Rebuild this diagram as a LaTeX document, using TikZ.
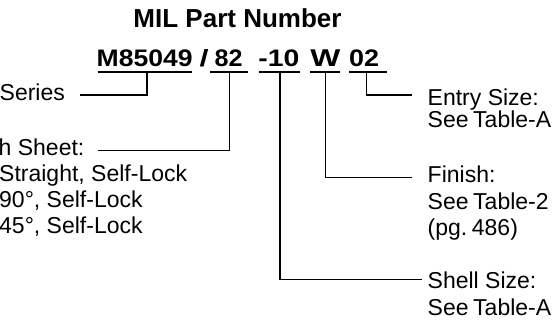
\documentclass[tikz,border=0pt]{standalone}
\usepackage{fontspec}
\setmainfont{Liberation Sans}
\begin{document}
\begin{tikzpicture}[x=1pt,y=-1pt,
  lbl/.style={anchor=base west,inner sep=0pt,font=\fontsize{23}{26}\selectfont},
  pn/.style={anchor=base,inner sep=0pt,font=\fontsize{24}{28}\selectfont\bfseries},
  uline/.style={line width=1.6pt},
  conn/.style={line width=1.2pt}]
\useasboundingbox (0,0) rectangle (556,325);
% title
\node (title) [anchor=base,inner sep=0pt,font=\fontsize{26}{30}\selectfont\bfseries] at (237.5,27) {MIL Part Number};
% part number segments
\node (pA) [pn] at (144.7,66) {\resizebox{96pt}{16.7pt}{M85049}};
\node (pS) [pn] at (204,66) {\resizebox{9pt}{17pt}{/}};
\node (pB) [pn] at (228.7,66) {\resizebox{28pt}{16.7pt}{82}};
\node (pC) [pn] at (278.8,66) {\resizebox{41pt}{16.7pt}{-10}};
\node (pD) [pn] at (325.3,66) {\resizebox{30pt}{16.7pt}{W}};
\node (pE) [pn] at (364.2,66) {\resizebox{30pt}{16.7pt}{02}};
% underlines
\draw[uline] (97.7,71.7) -- (191.7,71.7);
\draw[uline] (210,71.7) -- (248.3,71.7);
\draw[uline] (259.3,71.7) -- (300,71.7);
\draw[uline] (310,71.7) -- (340,71.7);
\draw[uline] (349.3,71.7) -- (386.7,71.7);
% labels
\node (ser) [lbl] at (-0.5,100.7) {Series};
\node (sh1) [lbl] at (-1.5,155.7) {h Sheet:};
\node (sh2) [lbl] at (-1,181.7) {Straight, Self-Lock};
\node (sh3) [lbl] at (-1,207.3) {90°, Self-Lock};
\node (sh4) [lbl] at (-1,233.3) {45°, Self-Lock};
\node (en1) [lbl] at (427.5,105) {Entry Size:};
\node (en2) [lbl] at (427.5,127.3) {See\hspace{0.2em}Table-A};
\node (fi1) [lbl] at (427.5,182.3) {Finish:};
\node (fi2) [lbl] at (427.5,209.5) {See\hspace{0.2em}Table-2};
\node (fi3) [lbl] at (427.5,235) {(pg.\hspace{0.2em}486)};
\node (she1) [lbl] at (427.5,288.3) {Shell Size:};
\node (she2) [lbl] at (427.5,315) {See\hspace{0.2em}Table-A};
% connector ends
\coordinate (serEnd) at (80,95);
\coordinate (shEnd) at (98.3,150.5);
\coordinate (enEnd) at (411.7,95);
\coordinate (fiEnd) at (412,177.3);
\coordinate (sheEnd) at (422,279.3);
% connectors
\draw[conn] ([xshift=2.3pt,yshift=-5.7pt]pA.base) |- (serEnd);
\draw[conn] ([xshift=0.6pt,yshift=-5.7pt]pB.base) |- (shEnd);
\draw[conn] ([xshift=1.2pt,yshift=-5.7pt]pC.base) |- (sheEnd);
\draw[conn] ([yshift=-5.7pt]pD.base) |- (fiEnd);
\draw[conn] ([xshift=2.5pt,yshift=-5.7pt]pE.base) |- (enEnd);
\end{tikzpicture}
\end{document}
